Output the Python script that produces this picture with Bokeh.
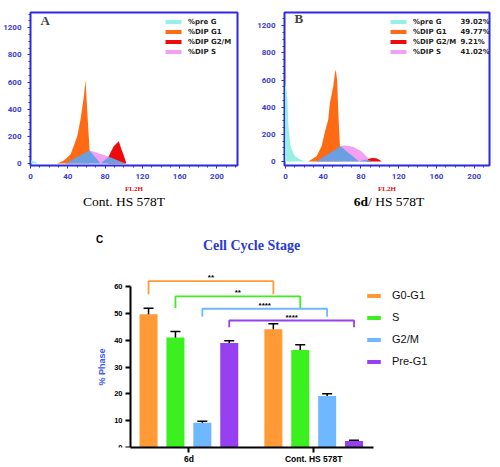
from bokeh.plotting import figure
from bokeh.models import (Range1d, FixedTicker, Legend, LegendItem, Label,
                          Whisker, TeeHead, ColumnDataSource)
from bokeh.layouts import column, row
from bokeh.embed import file_html
from bokeh.resources import INLINE
from bokeh.core.properties import value

# ---------------- Panel A: Cont. HS 578T (FL2H channel vs count) ----------------
a_preg_x = [0, 4, 8]
a_preg_y = [25, 15, 0]
a_g1_x = [28.6, 35.4, 42.9, 46.5, 50.1, 53.6, 57.2, 59.0, 60.8, 63.3]
a_g1_y = [0, 20, 66, 130, 200, 322, 492, 614, 395, 102]
a_s_x = [63.3, 69.7, 76.9, 84.0, 87.5, 90.5]
a_s_y = [95, 83, 66, 49, 30, 0]
a_g2m_x = [83.3, 85.8, 89.3, 94.7, 97.6, 99.7, 102.9]
a_g2m_y = [42, 80, 127, 163, 102, 66, 0]
a_fit_x = [37.5, 63.3, 75.1, 84.0, 101.9]
a_fit_y = [0, 95, 0, 49, 0]

# ---------------- Panel B: 6d / HS 578T ----------------
b_preg_x = [-1, 1.05, 2.1, 3.2, 5, 6.6, 10.2, 15.5, 20.8]
b_preg_y = [580, 540, 454, 258, 137, 88, 39, 15, 0]
b_g1_x = [24.2, 33, 38.3, 41.9, 45.3, 47.1, 50.6, 52.4, 53.3, 54.8, 55.9, 57.7]
b_g1_y = [0, 39, 112, 222, 307, 429, 551, 649, 675, 600, 380, 124]
b_s_x = [58.3, 61, 66, 72, 80.5, 85.7, 88.6, 91, 92]
b_s_y = [112, 119, 116, 107, 75, 39, 20, 2, 0]
b_g2m_x = [86, 88, 92, 96, 100, 102]
b_g2m_y = [0, 20, 27, 24, 12, 0]
b_fit_x = [33, 58.3, 78, 85, 93]
b_fit_y = [0, 112, 0, 15, 0]
b_pct = ["39.02%", "49.77%", "9.21%", "41.02%"]

hist_names = ["%pre G", "%DIP G1", "%DIP G2/M", "%DIP S"]
hist_x_ticks = [0, 40, 80, 120, 160, 200]
hist_y_ticks = [0, 200, 400, 600, 800, 1000]
hist_y_labels = ["0", "200", "400", "600", "800", "1200"]

# ---------------- Panel C: Cell Cycle Stage ----------------
groups = ["6d", "Cont. HS 578T"]
phases = ["G0-G1", "S", "G2/M", "Pre-G1"]
mean_6d = [49.77, 41.02, 9.21, 39.02]
mean_cont = [44.1, 36.4, 19.2, 2.4]
err_6d = [2.2, 2.3, 0.6, 0.8]
err_cont = [2.1, 2.0, 0.9, 0.3]
sig_labels = ["**", "**", "****", "****"]
bracket_top = [62.1, 56.4, 51.8, 47.4]
bracket_leg = [57.2, 52.1, 48.8, 44.9]
c_y_ticks = [0, 10, 20, 30, 40, 50, 60]

# ---------------- styles ----------------
FRAME = "#2b2be0"
TICKBLUE = "#3b3bd6"
C_PREG = "#98efe4"
C_G1 = "#ff6a14"
C_G2M = "#ee0a0a"
C_S = "#f4a0f0"
C_FIT = "#6b9fe3"
PHASE_COLORS = ["#ff9a36", "#3cef1e", "#6fb7ff", "#9640f2"]
TOP_H = 195


def area(xs, ys):
    return list(xs) + [xs[-1], xs[0]], list(ys) + [0, 0]


def hist_fig(width, xr, yr, left, right):
    p = figure(width=width, height=TOP_H, x_range=Range1d(*xr), y_range=Range1d(*yr),
               output_backend="svg", toolbar_location=None,
               min_border_left=left, min_border_right=right,
               min_border_top=12, min_border_bottom=TOP_H - 166)
    p.xgrid.visible = False
    p.ygrid.visible = False
    p.outline_line_color = FRAME
    p.outline_line_width = 2
    p.outline_line_alpha = 1
    p.xaxis.ticker = FixedTicker(ticks=hist_x_ticks, minor_ticks=list(range(0, 221, 10)))
    p.yaxis.ticker = FixedTicker(ticks=hist_y_ticks, minor_ticks=list(range(0, 1101, 50)))
    p.yaxis.major_label_overrides = {t: l for t, l in zip(hist_y_ticks, hist_y_labels)}
    for ax in (p.xaxis[0], p.yaxis[0]):
        ax.axis_line_color = FRAME
        ax.major_tick_line_color = FRAME
        ax.minor_tick_line_color = FRAME
        ax.major_tick_out = 3
        ax.major_tick_in = 0
        ax.minor_tick_out = 2
        ax.minor_tick_in = 0
        ax.major_label_text_color = TICKBLUE
        ax.major_label_text_font = "Roboto"
        ax.major_label_text_font_style = "bold"
        ax.major_label_text_font_size = "8px"
    p.yaxis.major_label_standoff = 6
    p.xaxis.major_label_standoff = 5
    p.xaxis.axis_label = "FL2H"
    p.xaxis.axis_label_text_color = "#e01010"
    p.xaxis.axis_label_text_font = "Liberation Serif"
    p.xaxis.axis_label_text_font_style = "bold"
    p.xaxis.axis_label_text_font_size = "7px"
    p.xaxis.axis_label_standoff = 3
    return p


def draw_hist(p, preg, g1, s, g2m, fit):
    r_preg = p.patch(*area(*preg), fill_color=C_PREG, line_color=None)
    r_g1 = p.patch(*area(*g1), fill_color=C_G1, line_color=None)
    r_s = p.patch(*area(*s), fill_color=C_S, line_color=None)
    r_g2m = p.patch(*area(*g2m), fill_color=C_G2M, line_color=None)
    p.patch(*area(*fit), fill_color=C_FIT, line_color=None)
    return [r_preg, r_g1, r_g2m, r_s]


def hist_legend(p, rends, x):
    leg = Legend(items=[LegendItem(label=n, renderers=[r]) for n, r in zip(hist_names, rends)],
                 location=(x, 109), glyph_width=20, glyph_height=5, label_height=9,
                 spacing=1, padding=0, margin=0, label_standoff=5,
                 label_text_font="DejaVu Sans", label_text_font_style="bold",
                 label_text_font_size="7px", label_text_color="#222222",
                 border_line_color=None, background_fill_alpha=0)
    p.add_layout(leg)


# Panel A
pa = hist_fig(254, (0, 222), (-15, 1112), 30, 17)
ra = draw_hist(pa, (a_preg_x, a_preg_y), (a_g1_x, a_g1_y), (a_s_x, a_s_y),
               (a_g2m_x, a_g2m_y), (a_fit_x, a_fit_y))
hist_legend(pa, ra, 133)
pa.add_layout(Label(x=10, y=145, x_units="screen", y_units="screen", text="A",
                    text_font="Liberation Serif", text_font_style="bold",
                    text_font_size="13px", text_baseline="middle", text_align="left"))

# Panel B
pb = hist_fig(246, (-1, 216.2), (-29, 1097), 29, 11)
rb = draw_hist(pb, (b_preg_x, b_preg_y), (b_g1_x, b_g1_y), (b_s_x, b_s_y),
               (b_g2m_x, b_g2m_y), (b_fit_x, b_fit_y))
hist_legend(pb, rb, 104)
for i, t in enumerate(b_pct):
    pb.add_layout(Label(x=176, y=144 - 10 * i, x_units="screen", y_units="screen", text=t,
                        text_font="DejaVu Sans", text_font_style="bold",
                        text_font_size="7px", text_baseline="middle", text_align="left",
                        text_color="#222222"))
pb.add_layout(Label(x=10, y=147, x_units="screen", y_units="screen", text="B",
                    text_font="Liberation Serif", text_font_style="bold",
                    text_font_size="13px", text_baseline="middle", text_align="left"))

# Panel C (its frame also carries the captions of panels A and B)
SLOT = 26.9 / 124.8
BAR_W = 18 / 124.8
group_pos = [i + 1 for i in range(len(groups))]
C_H = 466 - TOP_H
pc = figure(width=500, height=C_H, x_range=Range1d(-0.5096, 3.4327), y_range=Range1d(0, 94.07),
            output_backend="svg", toolbar_location=None,
            min_border_left=0, min_border_right=8, min_border_top=0, min_border_bottom=17)
pc.xgrid.visible = False
pc.ygrid.visible = False
pc.outline_line_color = None

centers = {}
legend_items = []
wx, wu, wl = [], [], []
for j, ph in enumerate(phases):
    xs = [g + (j - 1.5) * SLOT for g in group_pos]
    tops = [mean_6d[j], mean_cont[j]]
    errs = [err_6d[j], err_cont[j]]
    centers[j] = xs
    r = pc.vbar(x=xs, top=tops, width=BAR_W, bottom=0, fill_color=PHASE_COLORS[j],
                line_color=None)
    legend_items.append(LegendItem(label=ph, renderers=[r]))
    for xx, t, e in zip(xs, tops, errs):
        wx.append(xx)
        wu.append(t + e)
        wl.append(t - e)

wsrc = ColumnDataSource(dict(base=wx, upper=wu, lower=wl))
pc.add_layout(Whisker(base="base", upper="upper", lower="lower", source=wsrc,
                      line_color="black", line_width=1.5,
                      upper_head=TeeHead(size=10, line_color="black", line_width=1.5),
                      lower_head=TeeHead(size=10, line_color="black", line_width=1.5)))

# significance brackets
bx, by, sx, sy = [], [], [], []
for j in range(len(phases)):
    x1, x2 = centers[j]
    bx.append([x1, x1, x2, x2])
    by.append([bracket_leg[j], bracket_top[j], bracket_top[j], bracket_leg[j]])
    sx.append((x1 + x2) / 2)
    sy.append(bracket_top[j])
pc.multi_line(xs=bx, ys=by, line_color=PHASE_COLORS, line_width=1.8)
pc.text(x=sx, y=sy, text=sig_labels, text_font=value("Liberation Sans"),
        text_font_style="bold", text_font_size="8px", text_align="center",
        text_baseline="bottom", y_offset=1, text_color="black")

pc.xaxis.ticker = FixedTicker(ticks=group_pos)
pc.xaxis.major_label_overrides = {g: n for g, n in zip(group_pos, groups)}
pc.xaxis.bounds = (0.532, 2.477)
pc.yaxis.ticker = FixedTicker(ticks=c_y_ticks)
pc.yaxis.bounds = (0, 60)
pc.yaxis.fixed_location = 0.532
for ax in (pc.xaxis[0], pc.yaxis[0]):
    ax.axis_line_width = 2
    ax.axis_line_color = "black"
    ax.major_tick_line_width = 2
    ax.major_tick_line_color = "black"
    ax.major_tick_out = 5
    ax.major_tick_in = 0
    ax.minor_tick_line_color = None
    ax.major_label_text_font = "Liberation Sans"
    ax.major_label_text_font_style = "bold"
    ax.major_label_text_color = "black"
pc.xaxis.major_label_text_font_size = "8.5px"
pc.xaxis.major_label_standoff = 1
pc.yaxis.major_label_text_font_size = "7.5px"
pc.yaxis.major_label_standoff = 3
pc.yaxis.axis_label = "% Phase"
pc.yaxis.axis_label_text_font = "Liberation Sans"
pc.yaxis.axis_label_text_font_style = "bold"
pc.yaxis.axis_label_text_font_size = "9px"
pc.yaxis.axis_label_text_color = "#3d5af1"
pc.yaxis.axis_label_standoff = 4

legc = Legend(items=legend_items, location=(365, 79), glyph_width=17, glyph_height=5,
              label_height=14, spacing=8, padding=0, margin=0, label_standoff=10,
              label_text_font="Liberation Sans", label_text_font_size="11px",
              label_text_color="#111111", border_line_color=None, background_fill_alpha=0)
pc.add_layout(legc)

CAP_Y = 246
pc.add_layout(Label(x=123.5, y=CAP_Y, x_units="screen", y_units="screen", text="Cont. HS 578T",
                    text_font="Liberation Serif", text_font_size="13.5px",
                    text_baseline="middle", text_align="center", text_color="black"))
pc.add_layout(Label(x=367.5, y=CAP_Y, x_units="screen", y_units="screen", text="6d",
                    text_font="Liberation Serif", text_font_style="bold", text_font_size="13.5px",
                    text_baseline="middle", text_align="right", text_color="black"))
pc.add_layout(Label(x=367.5, y=CAP_Y, x_units="screen", y_units="screen", text="/ HS 578T",
                    text_font="Liberation Serif", text_font_size="13.5px",
                    text_baseline="middle", text_align="left", text_color="black"))
pc.add_layout(Label(x=251, y=202, x_units="screen", y_units="screen", text="Cell Cycle Stage",
                    text_font="Liberation Serif", text_font_style="bold", text_font_size="14px",
                    text_color="#2b3bd1", text_align="center", text_baseline="middle"))
pc.add_layout(Label(x=99, y=208, x_units="screen", y_units="screen", text="C",
                    text_font="Liberation Sans", text_font_style="bold", text_font_size="10px",
                    text_color="black", text_align="center", text_baseline="middle"))

layout = column(row(pa, pb), pc)
open("out.html", "w").write(file_html(layout, INLINE))
